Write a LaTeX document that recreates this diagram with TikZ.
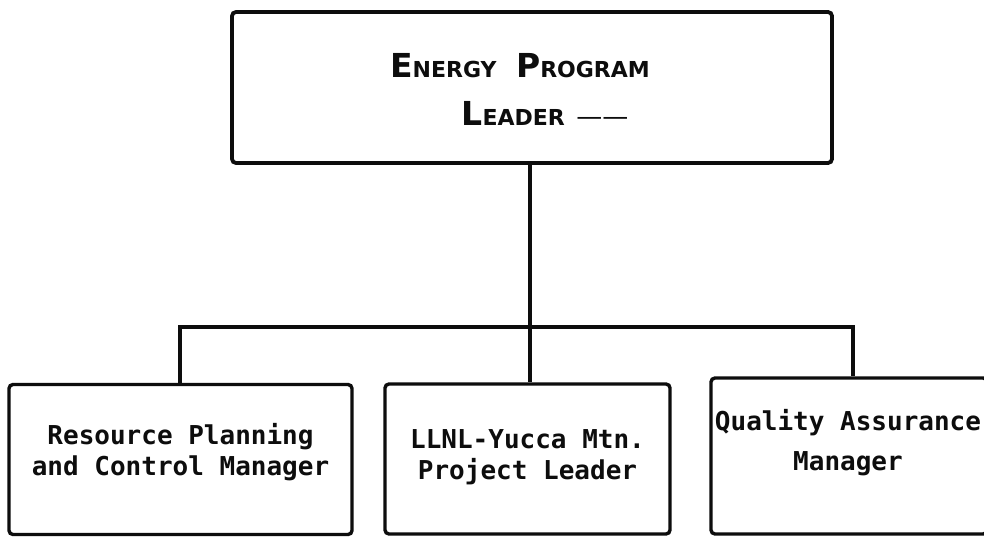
\documentclass[tikz,border=0pt]{standalone}
\usepackage{fontspec}
\setmonofont{DejaVu Sans Mono}
\newfontfamily\titlefont{DejaVu Sans}
\usepackage{tikz}
\usetikzlibrary{calc, positioning}
\definecolor{inkBlack}{gray}{0.05}

% faked small caps for the top box
\newcommand{\smallcapsText}[1]{{\fontsize{22}{48}\selectfont #1}}

\tikzset{
  leaderBox/.style={draw=inkBlack, line width=3.8pt, rounded corners=4pt,
    minimum width=600pt, minimum height=151pt, inner sep=0pt},
  unitBox/.style={draw=inkBlack, line width=3.4pt, rounded corners=4pt,
    minimum height=150pt, inner sep=0pt},
  unitText/.style={align=center, text=inkBlack, inner sep=0pt,
    font=\ttfamily\bfseries\fontsize{26}{31}\selectfont},
  titleText/.style={align=center, text=inkBlack, inner sep=0pt,
    font=\titlefont\bfseries\fontsize{33}{48}\selectfont},
  link/.style={draw=inkBlack, line width=3.6pt}
}

\begin{document}
\begin{tikzpicture}[x=1pt, y=-1pt]
    \clip (0,0) rectangle (984,537);
    \fill[white] (0,0) rectangle (984,537);

    % boxes
    \node[leaderBox] (epl) at (532,87.5) {};
    \node[titleText] (eplText) at (520,89)
        {E\smallcapsText{NERGY}\hspace{8pt} P\smallcapsText{ROGRAM}\\
         \hspace{50pt}L\smallcapsText{EADER}\ {\mdseries\fontsize{26}{48}\selectfont ——}};

    \node[unitBox, minimum width=343pt] (rpc) at (180.5,459.5) {};
    \node[unitText] (rpcText) at (180.5,452.5)
        {Resource Planning\\and Control Manager};

    \node[unitBox, minimum width=285pt] (yucca) at (527.5,459) {};
    \node[unitText] (yuccaText) at (527.5,457.5)
        {LLNL-Yucca Mtn.\\Project Leader};

    \node[unitBox, minimum width=276pt, minimum height=156pt] (qa) at (849,456) {};
    \node[unitText] (qaText) at (848,443)
        {Quality Assurance\\[9pt]Manager};

    % connectors
    \coordinate (busL) at (180,327);
    \coordinate (busR) at (853,327);
    \draw[link] (epl.south -| yucca.north) ++(2.5,0) coordinate (drop) -- (drop |- busL);
    \draw[link] (busL |- rpc.north) -- (busL) -- (busR) -- (busR |- qa.north);
    \draw[link] (drop |- busL) -- (drop |- yucca.north);
\end{tikzpicture}
\end{document}
